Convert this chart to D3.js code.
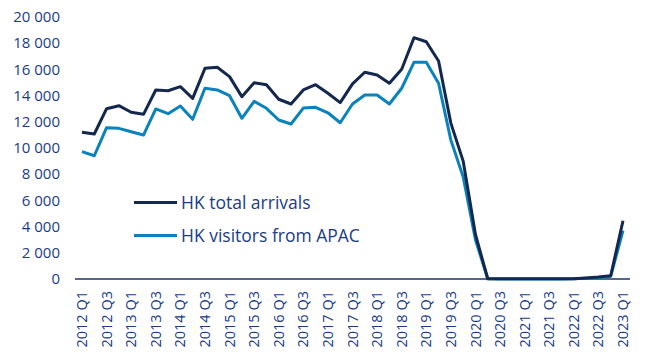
<!DOCTYPE html>
<html>
<head>
<meta charset="utf-8">
<script src="https://cdn.jsdelivr.net/npm/d3@7"></script>
<style>
html,body{margin:0;padding:0;background:#fff;}
svg{display:block;font-family:"Open Sans", Lato, sans-serif;}
</style>
</head>
<body>
<svg id="chart" width="650" height="355"></svg>
<script>
const quarters = ["2012 Q1","2012 Q2","2012 Q3","2012 Q4","2013 Q1","2013 Q2","2013 Q3","2013 Q4",
"2014 Q1","2014 Q2","2014 Q3","2014 Q4","2015 Q1","2015 Q2","2015 Q3","2015 Q4",
"2016 Q1","2016 Q2","2016 Q3","2016 Q4","2017 Q1","2017 Q2","2017 Q3","2017 Q4",
"2018 Q1","2018 Q2","2018 Q3","2018 Q4","2019 Q1","2019 Q2","2019 Q3","2019 Q4",
"2020 Q1","2020 Q2","2020 Q3","2020 Q4","2021 Q1","2021 Q2","2021 Q3","2021 Q4",
"2022 Q1","2022 Q2","2022 Q3","2022 Q4","2023 Q1"];
const totalArrivals = [11200,11070,13000,13230,12730,12570,14430,14370,14680,13790,16080,16160,
15450,13920,14980,14830,13720,13360,14430,14830,14180,13460,14890,15780,15570,14940,16010,18420,
18110,16640,11900,9000,3400,20,10,10,10,10,10,10,20,80,150,250,4450];
const apacVisitors = [9720,9410,11550,11500,11240,10990,12980,12620,13210,12190,14560,14430,
13990,12270,13560,13030,12140,11830,13050,13110,12690,11930,13360,14050,14050,13360,14560,16540,
16540,14940,10600,7800,3000,10,5,5,5,5,5,5,10,60,120,200,3700];
const yTicks = [0,2000,4000,6000,8000,10000,12000,14000,16000,18000,20000];
const seriesNames = ["HK total arrivals","HK visitors from APAC"];
const seriesColors = ["#14284f","#0a82bb"];

const svg = d3.select("#chart");
const x = d3.scalePoint().domain(quarters).range([82,623]);
const y = d3.scaleLinear().domain([0,20000]).range([279,17]);
const textColor = "#1a3c88";
const fmt = v => d3.format(",")(v).replace(/,/g," ");

// y labels
svg.append("g").selectAll("text").data(yTicks).join("text")
  .attr("x",60).attr("y",d=>y(d)).attr("dy","0.35em")
  .attr("text-anchor","end").attr("fill",textColor).attr("font-size",15)
  .text(fmt);

// x axis line
svg.append("line").attr("x1",75).attr("x2",630).attr("y1",y(0)).attr("y2",y(0))
  .attr("stroke","#1c3566").attr("stroke-width",1.3);

// x labels (every other quarter)
svg.append("g").selectAll("text").data(quarters.filter((d,i)=>i%2===0)).join("text")
  .attr("transform",d=>`translate(${x(d)},291) rotate(-90)`)
  .attr("dy","0.35em").attr("text-anchor","end").attr("fill",textColor).attr("font-size",14.5)
  .text(d=>d);

const line = d3.line().x((d,i)=>x(quarters[i])).y(d=>y(d)).curve(d3.curveLinear);
[apacVisitors, totalArrivals].forEach((s,k)=>{
  const idx = k===0 ? 1 : 0;
  svg.append("path").datum(s).attr("d",line).attr("fill","none")
    .attr("stroke",seriesColors[idx]).attr("stroke-width",3).attr("stroke-linejoin","round");
});

// legend
const leg = svg.append("g");
seriesNames.forEach((n,i)=>{
  const yy = 202.5 + i*33;
  leg.append("line").attr("x1",134).attr("x2",177).attr("y1",yy).attr("y2",yy)
    .attr("stroke",seriesColors[i]).attr("stroke-width",3);
  leg.append("text").attr("x",181).attr("y",yy).attr("dy","0.35em")
    .attr("fill",textColor).attr("font-size",17.5).text(n);
});
</script>
</body>
</html>
